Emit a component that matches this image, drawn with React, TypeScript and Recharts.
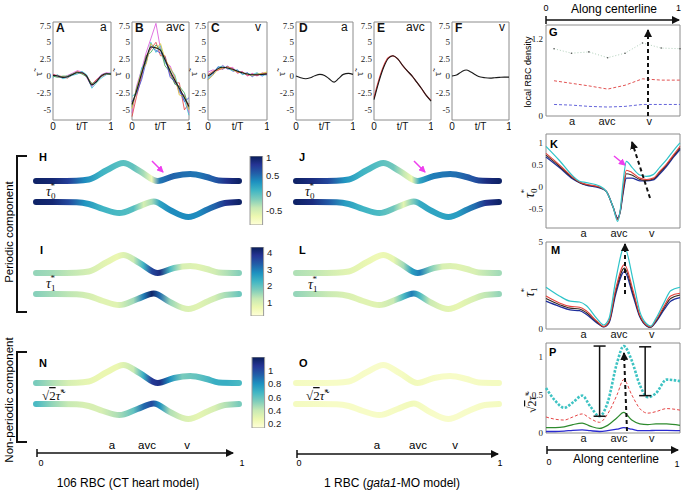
import React from 'react';
import { LineChart, Line, BarChart, Bar, XAxis, YAxis, ReferenceLine, ReferenceArea } from 'recharts';

const SANS = '"Liberation Sans", Arial, Helvetica, sans-serif';
const SERIF = '"Liberation Serif", "Times New Roman", serif';

// ---- panels A-F : tau over one period ----
const tGrid = [0, 0.08, 0.17, 0.25, 0.33, 0.42, 0.5, 0.58, 0.67, 0.75, 0.83, 0.92, 1];
const aMean = [0.1, 0.0, -0.2, -0.1, 0.2, 0.5, 0.5, 0.0, -1.3, -0.8, 0.0, 0.35, 0.3];
const aTraces = [
  [0.3, -0.1, -0.3, 0.1, 0.4, 0.8, 0.6, -0.2, -1.6, -0.6, 0.2, 0.5, 0.4],
  [0.2, 0.1, -0.1, -0.3, 0.2, 0.7, 0.4, 0.1, -1.2, -0.5, -0.1, 0.3, 0.3],
  [-0.2, 0.2, -0.4, -0.2, 0.1, 0.3, 0.7, 0.2, -1.8, -1.0, -0.3, 0.2, 0.5],
  [0.0, -0.2, 0.0, 0.0, 0.3, 0.6, 0.3, -0.1, -1.1, -0.9, 0.1, 0.4, 0.2],
];
const bMean = [-4.2, -2.2, 0.4, 2.6, 4.3, 4.2, 3.8, 2.4, 0.7, -0.6, -1.8, -3.2, -4.5];
const bTraces = [
  [-5.5, -1.5, 1.0, 3.5, 5.5, 7.8, 4.0, 2.0, 1.5, -0.3, -2.5, -2.8, -5.5],
  [-6.0, -3.0, 0.0, 3.0, 4.0, 5.0, 3.0, 3.0, 0.2, -1.0, -1.0, -5.0, -4.0],
  [-3.0, -2.5, 1.2, 2.0, 5.0, 3.5, 4.5, 2.0, 1.0, 0.2, -2.2, -3.5, -5.8],
  [-4.5, -1.8, 0.5, 3.0, 3.5, 4.6, 4.0, 1.5, 0.6, -1.2, -1.5, -2.5, -4.8],
  [-3.8, -2.6, -0.5, 2.2, 4.5, 3.8, 3.4, 2.8, -0.2, -0.8, -2.0, -3.8, -3.2],
  [-4.8, -2.0, 0.8, 1.8, 4.8, 4.0, 4.8, 2.5, 1.2, 0.0, -2.8, -3.0, -5.0],
];
const cMean = [0, 0.5, 1.1, 1.3, 1.2, 1.0, 0.7, 0.5, 0.3, 0.2, 0.2, 0.25, 0.3];
const cTraces = [
  [-0.5, 0.2, 1.4, 1.0, 1.5, 0.7, 0.9, 0.3, 0.5, -0.1, 0.4, 0.0, 0.5],
  [0.6, 0.9, 0.8, 1.6, 1.0, 1.3, 0.4, 0.7, 0.0, 0.4, 0.0, 0.5, 0.1],
  [-0.3, 0.4, 1.3, 1.5, 1.1, 0.8, 0.9, 0.2, 0.4, 0.2, 0.5, 0.1, 0.2],
  [0.2, 0.7, 0.9, 1.1, 1.4, 1.1, 0.5, 0.6, 0.1, 0.3, 0.1, 0.4, 0.4],
  [-0.6, 0.1, 1.0, 1.2, 1.3, 0.9, 0.6, 0.5, 0.3, 0.1, 0.3, 0.4, 0.6],
];
const dMean = [0, -0.25, -0.4, -0.25, 0.05, 0.25, 0.1, -0.4, -0.9, -0.35, 0.25, 0.4, 0.25];
const eMean = [-3.5, -1.0, 1.3, 2.6, 3.0, 2.5, 1.6, 0.8, 0.0, -0.9, -1.8, -2.9, -3.7];
const eRed = [-3.2, -0.7, 1.5, 2.7, 3.0, 2.5, 1.6, 0.8, 0.0, -0.9, -1.8, -2.9, -3.6];
const fMean = [0, 0.15, 0.65, 0.9, 0.6, 0.15, -0.15, -0.25, -0.3, -0.25, -0.2, -0.15, -0.15];
const tauTicks = [-5, -2.5, 0, 2.5, 5, 7.5];

// ---- panel G : local RBC density ----
const gX = [0.06, 0.19, 0.32, 0.46, 0.59, 0.72, 0.86, 1.0];
const gHigh = [1.05, 0.98, 1.0, 0.91, 0.98, 1.14, 1.06, 1.05];
const gMid = [0.55, 0.51, 0.47, 0.42, 0.48, 0.58, 0.56, 0.56];
const gLow = [0.18, 0.17, 0.15, 0.14, 0.15, 0.18, 0.18, 0.18];

// ---- panel K : tau0* along centreline ----
const kX = [0, 0.1, 0.2, 0.25, 0.3, 0.4, 0.45, 0.5, 0.535, 0.555, 0.575, 0.6, 0.64, 0.7, 0.75, 0.8, 0.85, 0.9, 0.95, 1];
const kCyan = [0.92, 0.6, 0.25, 0.13, 0.1, 0.02, -0.1, -0.45, -0.78, -0.5, 0.1, 0.58, 0.45, 0.27, 0.24, 0.28, 0.45, 0.62, 0.82, 1.0];
const kRed = [0.76, 0.5, 0.22, 0.11, 0.06, 0.0, -0.1, -0.45, -0.74, -0.52, -0.05, 0.38, 0.33, 0.2, 0.17, 0.2, 0.36, 0.52, 0.72, 0.92];
const kBlack = [0.72, 0.47, 0.2, 0.1, 0.05, -0.01, -0.1, -0.45, -0.72, -0.54, -0.1, 0.3, 0.27, 0.17, 0.15, 0.18, 0.33, 0.5, 0.7, 0.88];
const kBlue = [0.68, 0.44, 0.18, 0.1, 0.04, -0.02, -0.1, -0.45, -0.7, -0.55, -0.15, 0.2, 0.2, 0.14, 0.14, 0.16, 0.3, 0.47, 0.67, 0.85];

// ---- panel M : tau1* ----
const mX = [0, 0.1, 0.18, 0.25, 0.3, 0.38, 0.43, 0.47, 0.52, 0.585, 0.65, 0.7, 0.75, 0.78, 0.82, 0.88, 0.93, 1];
const mCyan = [2.4, 1.9, 1.6, 1.55, 1.35, 0.6, 0.23, 0.6, 2.8, 4.7, 2.8, 1.0, 0.3, 0.17, 0.6, 1.5, 2.2, 2.4];
const mRed = [1.9, 1.5, 1.3, 1.25, 1.05, 0.45, 0.15, 0.45, 2.3, 3.7, 2.2, 0.8, 0.22, 0.12, 0.5, 1.3, 1.9, 2.05];
const mBlack = [1.75, 1.4, 1.2, 1.15, 0.95, 0.4, 0.13, 0.4, 2.15, 3.5, 2.05, 0.75, 0.2, 0.1, 0.45, 1.2, 1.75, 1.95];
const mBlue = [1.6, 1.3, 1.1, 1.05, 0.85, 0.35, 0.12, 0.35, 2.0, 3.3, 1.9, 0.7, 0.18, 0.1, 0.4, 1.1, 1.6, 1.8];

// ---- panel P : sqrt(2) tau~* ----
const pX = [0, 0.07, 0.135, 0.2, 0.27, 0.33, 0.4, 0.46, 0.53, 0.58, 0.64, 0.7, 0.76, 0.82, 0.9, 1];
const pCyan = [0.59, 0.42, 0.33, 0.4, 0.49, 0.35, 0.22, 0.4, 0.92, 1.14, 0.95, 0.63, 0.47, 0.52, 0.7, 0.68];
const pRed = [0.21, 0.18, 0.17, 0.21, 0.25, 0.19, 0.14, 0.25, 0.5, 0.7, 0.5, 0.32, 0.26, 0.28, 0.32, 0.3];
const pGreen = [0.07, 0.07, 0.08, 0.11, 0.13, 0.09, 0.06, 0.1, 0.2, 0.27, 0.17, 0.12, 0.11, 0.12, 0.12, 0.1];
const pBlue = [0.02, 0.02, 0.025, 0.035, 0.04, 0.03, 0.02, 0.03, 0.05, 0.07, 0.05, 0.03, 0.03, 0.035, 0.035, 0.03];
const errX = [0.4, 0.74];
const errLo = [0.22, 0.49];
const errHi = [1.14, 1.13];

// ---- tubes H-O : centreline shape and colour values ----
const shapeTopX = [0, 0.1, 0.2, 0.26, 0.35, 0.43, 0.51, 0.6, 0.68, 0.76, 0.84, 0.9, 1];
const shapeTop = [0, 0, 0.3, 1.5, 11, 18, 10, 0, 5, 7, 4, 0.5, 0];
const shapeBotX = [0, 0.1, 0.2, 0.26, 0.33, 0.41, 0.5, 0.58, 0.66, 0.75, 0.85, 0.93, 1];
const shapeBot = [0, 0, -0.3, -2, -7, -11, -5, 0.5, -8, -15, -7, -1, 0];
const colX = [0, 0.08, 0.16, 0.24, 0.32, 0.4, 0.48, 0.53, 0.57, 0.61, 0.66, 0.72, 0.8, 0.88, 0.94, 1];
const hTopC = [1.0, 0.95, 0.75, 0.35, 0.1, 0.0, -0.05, -0.3, -0.7, 0.45, 0.55, 0.5, 0.45, 0.6, 0.85, 1.0];
const hBotC = [1.0, 0.95, 0.7, 0.3, 0.1, 0.05, 0.0, -0.5, -0.3, 0.2, 0.35, 0.35, 0.35, 0.55, 0.85, 1.0];
const iTopC = [1.6, 1.5, 1.3, 1.1, 0.9, 0.75, 1.2, 2.3, 3.6, 4.0, 2.2, 1.0, 0.9, 1.1, 1.4, 1.7];
const iBotC = [1.7, 1.5, 1.3, 1.1, 0.9, 0.9, 1.5, 3.0, 4.2, 3.2, 1.6, 1.0, 0.9, 1.1, 1.5, 1.9];
const nTopC = [0.55, 0.45, 0.35, 0.3, 0.28, 0.28, 0.4, 0.7, 1.05, 1.1, 0.8, 0.55, 0.6, 0.7, 0.7, 0.65];
const nBotC = [0.65, 0.5, 0.4, 0.35, 0.35, 0.45, 0.6, 0.9, 1.0, 0.8, 0.45, 0.35, 0.3, 0.35, 0.45, 0.55];
const jTopC = [1.0, 0.9, 0.7, 0.3, 0.1, 0.0, -0.1, -0.4, -0.65, 0.2, 0.4, 0.45, 0.5, 0.65, 0.9, 1.0];
const jBotC = [1.0, 0.9, 0.6, 0.25, 0.1, 0.05, -0.1, -0.6, -0.2, 0.15, 0.2, 0.2, 0.25, 0.5, 0.85, 1.0];
const lTopC = [1.4, 1.3, 1.1, 0.9, 0.8, 0.65, 0.8, 1.5, 2.6, 3.0, 1.8, 1.0, 0.9, 1.0, 1.3, 1.5];
const lBotC = [1.6, 1.4, 1.2, 1.0, 0.9, 0.9, 1.2, 2.2, 3.0, 2.2, 1.2, 0.9, 0.8, 1.0, 1.3, 1.6];
const oTopC = [0.22, 0.21, 0.2, 0.2, 0.2, 0.19, 0.2, 0.22, 0.24, 0.23, 0.21, 0.2, 0.2, 0.21, 0.22, 0.22];
const oBotC = [0.22, 0.21, 0.2, 0.2, 0.2, 0.2, 0.21, 0.23, 0.24, 0.22, 0.2, 0.19, 0.19, 0.2, 0.21, 0.22];

const tau0Dom = [-0.9, 1.06];
const tau0Ticks = [-0.5, 0, 0.5, 1];
const tau1Dom = [0.2, 4.35];
const tau1Ticks = [1, 2, 3, 4];
const tauNDom = [0.14, 1.2];
const tauNTicks = [0.2, 0.4, 0.6, 0.8, 1];

const regionTicks = [0.28, 0.545, 0.79];
const regionNames = ['a', 'avc', 'v'];
const gRegionTicks = [0.194, 0.455, 0.77];

const traceColors = ['#d94fd9', '#e03c3c', '#35c2d0', '#3aa64a', '#3a46d6', '#d6c22e'];
const YLGNBU = ['#ffffd9', '#edf8b1', '#c7e9b4', '#7fcdbb', '#41b6c4', '#1d91c0', '#225ea8', '#253494', '#081d58'];

const hex = (h: string) => [1, 3, 5].map((i) => parseInt(h.slice(i, i + 2), 16));
function cmap(f: number) {
  const g = Math.max(0, Math.min(1, f)) * 8;
  const i = Math.min(7, Math.floor(g));
  const u = g - i;
  const a = hex(YLGNBU[i]);
  const b = hex(YLGNBU[i + 1]);
  return `rgb(${a.map((v, k) => Math.round(v + (b[k] - v) * u)).join(',')})`;
}

const rows = (xs: number[], series: Record<string, number[]>) =>
  xs.map((x, i) => {
    const r: any = { x };
    Object.keys(series).forEach((k) => (r[k] = series[k][i]));
    return r;
  });

type Box = { x: number; y: number; w: number; h: number };

const MT = 6;
const MR = 2;

function Plot({ b, ml, mb, yDom, data, children }: { b: Box; ml: number; mb: number; yDom: number[]; data: any[]; children: any }) {
  const W = b.w + ml + MR;
  const H = b.h + MT + mb;
  return (
    <div style={{ position: 'absolute', left: b.x - ml, top: b.y - MT }}>
      <LineChart width={W} height={H} data={data} margin={{ top: MT, right: MR, left: 0, bottom: 0 }}>
        {children}
        <ReferenceArea x1={0} x2={1} y1={yDom[0]} y2={yDom[1]} fill="none" fillOpacity={0} stroke="#8c8c8c" strokeWidth={1} ifOverflow="visible" />
      </LineChart>
    </div>
  );
}

const serifTick = { fontSize: 9, fontFamily: SERIF, fill: '#222' };
const sansTick = { fontSize: 11, fontFamily: SANS, fill: '#111' };
const tauDom = [-6.5, 8];

function TracePanel({ b, mean, traces, colors, red }: { b: Box; mean: number[]; traces: number[][]; colors: string[]; red?: number[] }) {
  const series: Record<string, number[]> = { mean };
  traces.forEach((tr, k) => (series['s' + k] = tr));
  if (red) series.red = red;
  const data = rows(tGrid, series);
  return (
    <Plot b={b} ml={22} mb={16} yDom={tauDom} data={data}>
      <XAxis type="number" dataKey="x" domain={[0, 1]} ticks={[0, 0.5, 1]} interval={0}
        tickFormatter={(v: number) => (v === 0.5 ? 't/T' : String(v))}
        tickLine={false} axisLine={false} tickSize={0} tickMargin={3} height={16}
        tick={{ fontSize: 10, fontFamily: SANS, fill: '#111' }} />
      <YAxis type="number" domain={tauDom} ticks={tauTicks} interval={0} width={22}
        tickLine={false} axisLine={false} tickSize={0} tickMargin={2} tick={serifTick} />
      {traces.map((_, k) => (
        <Line key={k} type="linear" dataKey={'s' + k} stroke={colors[k % colors.length]} strokeWidth={0.8} dot={false} isAnimationActive={false} />
      ))}
      {red && <Line type="monotone" dataKey="red" stroke="#e03c3c" strokeWidth={1.2} dot={false} isAnimationActive={false} />}
      <Line type="monotone" dataKey="mean" stroke="#1a1a1a" strokeWidth={1.1} dot={false} isAnimationActive={false} />
    </Plot>
  );
}

function Tube({ id, x0, base, xs, ys, cvals, dom }: { id: string; x0: number; base: number; xs: number[]; ys: number[]; cvals: number[]; dom: number[] }) {
  const len = 203;
  const pad = 5;
  const H = 50;
  const data = xs.map((x, i) => ({ x, y: ys[i] }));
  return (
    <div style={{ position: 'absolute', left: x0 - pad, top: base - H / 2 }}>
      <LineChart width={len + 2 * pad} height={H} data={data} margin={{ top: 0, right: pad, left: pad, bottom: 0 }}>
        <defs>
          <linearGradient id={id} x1="0" y1="0" x2="1" y2="0">
            {colX.map((p, i) => (
              <stop key={i} offset={p} stopColor={cmap((cvals[i] - dom[0]) / (dom[1] - dom[0]))} />
            ))}
          </linearGradient>
        </defs>
        <XAxis type="number" dataKey="x" domain={[0, 1]} hide />
        <YAxis type="number" domain={[-H / 2, H / 2]} hide />
        <Line type="monotone" dataKey="y" stroke={`url(#${id})`} strokeWidth={6} strokeLinecap="round" dot={false} isAnimationActive={false} />
      </LineChart>
    </div>
  );
}

function ColorBar({ id, x, y, h, dom, ticks }: { id: string; x: number; y: number; h: number; dom: number[]; ticks: number[] }) {
  const w = 14;
  const mr = 26;
  const data = [{ k: 'c', r: dom }];
  return (
    <div style={{ position: 'absolute', left: x, top: y - 6 }}>
      <BarChart width={w + mr} height={h + 12} data={data} margin={{ top: 6, right: 0, left: 0, bottom: 6 }} barCategoryGap={0}>
        <defs>
          <linearGradient id={id} x1="0" y1="1" x2="0" y2="0">
            {YLGNBU.map((c, i) => (
              <stop key={i} offset={i / 8} stopColor={c} />
            ))}
          </linearGradient>
        </defs>
        <XAxis type="category" dataKey="k" hide />
        <YAxis type="number" orientation="right" domain={dom} ticks={ticks} interval={0} width={mr}
          axisLine={false} tickLine={false} tickSize={2} tickMargin={1} allowDataOverflow
          tick={{ fontSize: 9.5, fontFamily: SANS, fill: '#222' }} />
        <Bar dataKey="r" fill={`url(#${id})`} stroke="#9a9a9a" strokeWidth={1} barSize={w} isAnimationActive={false} />
      </BarChart>
    </div>
  );
}

const regionAxis = (ticks: number[]) => (
  <XAxis type="number" dataKey="x" domain={[0, 1]} ticks={ticks} interval={0}
    tickFormatter={(v: number) => regionNames[ticks.indexOf(v)] || ''}
    tickLine={false} axisLine={false} tickSize={0} tickMargin={1} height={14} tick={sansTick} />
);

const TubeLabel = ({ x, y, sub }: { x: number; y: number; sub: string }) => (
  <text x={x} y={y} fontFamily={SERIF} fontSize={14} fontStyle="italic" fill="#111">
    τ<tspan fontSize={9} fontStyle="normal" dy={3}>{sub}</tspan>
    <tspan fontSize={9} fontStyle="normal" dx={-5} dy={-10}>*</tspan>
  </text>
);

const SqrtLabel = ({ x, y, size = 13 }: { x: number; y: number; size?: number }) => (
  <text x={x} y={y} fontFamily={SERIF} fontSize={size} fill="#111">
    √<tspan textDecoration="overline">2</tspan>
    <tspan fontStyle="italic">τ̃</tspan>
    <tspan fontSize={size * 0.65} dy={-5}>*</tspan>
  </text>
);

export default function App() {
  const smallY = 22;
  const smallH = 98;
  const boxA = { x: 53, y: smallY, w: 58, h: smallH };
  const boxB = { x: 132, y: smallY, w: 57, h: smallH };
  const boxC = { x: 208, y: smallY, w: 59, h: smallH };
  const boxD = { x: 296, y: smallY, w: 57, h: smallH };
  const boxE = { x: 374, y: smallY, w: 57, h: smallH };
  const boxF = { x: 452, y: smallY, w: 57, h: smallH };
  const boxG = { x: 546, y: 25, w: 134, h: 91 };
  const boxK = { x: 546, y: 134, w: 134, h: 94 };
  const boxM = { x: 546, y: 242, w: 134, h: 88 };
  const boxP = { x: 546, y: 343, w: 134, h: 90 };

  const gData = rows(gX, { hi: gHigh, mid: gMid, lo: gLow });
  const kData = rows(kX, { blue: kBlue, black: kBlack, red: kRed, cyan: kCyan });
  const mData = rows(mX, { blue: mBlue, black: mBlack, red: mRed, cyan: mCyan });
  const pData = rows(pX, { blue: pBlue, green: pGreen, red: pRed, cyan: pCyan });
  const gDom = [0, 1.42];
  const kDom = [-0.93, 1.2];
  const mDom = [0, 5];
  const pDom = [0, 1.18];

  const L0 = 36;
  const R0 = 296;
  const smallBoxes = [boxA, boxB, boxC, boxD, boxE, boxF];
  const smallLetters = ['A', 'B', 'C', 'D', 'E', 'F'];
  const smallRegions = [
    { t: 'a', x: 100 }, { t: 'avc', x: 166 }, { t: 'v', x: 255 },
    { t: 'a', x: 341 }, { t: 'avc', x: 406 }, { t: 'v', x: 499 },
  ];

  return (
    <div style={{ position: 'absolute', left: 0, top: 0, width: 683, height: 494, background: '#fff', overflow: 'hidden', fontFamily: SANS }}>
      <TracePanel b={boxA} mean={aMean} traces={aTraces} colors={[traceColors[0], traceColors[1], traceColors[2], traceColors[3]]} />
      <TracePanel b={boxB} mean={bMean} traces={bTraces} colors={traceColors} />
      <TracePanel b={boxC} mean={cMean} traces={cTraces} colors={[traceColors[4], traceColors[0], traceColors[2], traceColors[1], traceColors[5]]} />
      <TracePanel b={boxD} mean={dMean} traces={[]} colors={traceColors} />
      <TracePanel b={boxE} mean={eMean} traces={[]} colors={traceColors} red={eRed} />
      <TracePanel b={boxF} mean={fMean} traces={[]} colors={traceColors} />

      <Plot b={boxG} ml={20} mb={14} yDom={gDom} data={gData}>
        {regionAxis(gRegionTicks)}
        <YAxis type="number" domain={gDom} ticks={[0, 1.2]} interval={0} width={20}
          tickLine={false} axisLine={false} tickSize={0} tickMargin={3} tick={serifTick} />
        <Line type="linear" dataKey="hi" stroke="#9cc3a8" strokeWidth={0.8} strokeDasharray="1 2" dot={{ r: 0.8, fill: '#555', stroke: 'none' }} isAnimationActive={false} />
        <Line type="linear" dataKey="mid" stroke="#e25353" strokeWidth={1} strokeDasharray="3 2" dot={false} isAnimationActive={false} />
        <Line type="linear" dataKey="lo" stroke="#6464da" strokeWidth={1} strokeDasharray="3 2" dot={false} isAnimationActive={false} />
      </Plot>

      <Plot b={boxK} ml={20} mb={14} yDom={kDom} data={kData}>
        {regionAxis(regionTicks)}
        <YAxis type="number" domain={kDom} ticks={[-0.5, 0, 0.5, 1]} interval={0} width={20}
          tickLine={false} axisLine={false} tickSize={0} tickMargin={3} tick={serifTick} />
        <Line type="monotone" dataKey="blue" stroke="#1f2f9c" strokeWidth={1.3} dot={false} isAnimationActive={false} />
        <Line type="monotone" dataKey="black" stroke="#3a2a22" strokeWidth={1.1} dot={false} isAnimationActive={false} />
        <Line type="monotone" dataKey="red" stroke="#e3413a" strokeWidth={1.1} dot={false} isAnimationActive={false} />
        <Line type="monotone" dataKey="cyan" stroke="#2ec4c9" strokeWidth={1.2} dot={false} isAnimationActive={false} />
      </Plot>

      <Plot b={boxM} ml={20} mb={13} yDom={mDom} data={mData}>
        {regionAxis(regionTicks)}
        <YAxis type="number" domain={mDom} ticks={[0, 5]} interval={0} width={20}
          tickLine={false} axisLine={false} tickSize={0} tickMargin={3} tick={serifTick} />
        <Line type="monotone" dataKey="blue" stroke="#1f2f9c" strokeWidth={1.3} dot={false} isAnimationActive={false} />
        <Line type="monotone" dataKey="black" stroke="#3a2a22" strokeWidth={1.1} dot={false} isAnimationActive={false} />
        <Line type="monotone" dataKey="red" stroke="#e3413a" strokeWidth={1.1} dot={false} isAnimationActive={false} />
        <Line type="monotone" dataKey="cyan" stroke="#2ec4c9" strokeWidth={1.2} dot={false} isAnimationActive={false} />
      </Plot>

      <Plot b={boxP} ml={20} mb={14} yDom={pDom} data={pData}>
        {regionAxis(regionTicks)}
        <YAxis type="number" domain={pDom} ticks={[0, 0.5, 1]} interval={0} width={20}
          tickLine={false} axisLine={false} tickSize={0} tickMargin={3} tick={serifTick} />
        <Line type="monotone" dataKey="blue" stroke="#2a2ad0" strokeWidth={1.3} dot={false} isAnimationActive={false} />
        <Line type="monotone" dataKey="green" stroke="#2e8b2e" strokeWidth={1.2} dot={false} isAnimationActive={false} />
        <Line type="monotone" dataKey="red" stroke="#e64646" strokeWidth={1} strokeDasharray="3 2" dot={false} isAnimationActive={false} />
        <Line type="monotone" dataKey="cyan" stroke="#3ec3c3" strokeWidth={2.6} strokeDasharray="2.5 1.5" dot={false} isAnimationActive={false} />
        {errX.map((x, i) => (
          <ReferenceLine key={'e' + i} segment={[{ x, y: errLo[i] }, { x, y: errHi[i] }]} stroke="#111" strokeWidth={1.5} />
        ))}
        {errX.map((x, i) => (
          <ReferenceLine key={'t' + i} segment={[{ x: x - 0.045, y: errHi[i] }, { x: x + 0.045, y: errHi[i] }]} stroke="#111" strokeWidth={1.5} />
        ))}
        {errX.map((x, i) => (
          <ReferenceLine key={'b' + i} segment={[{ x: x - 0.045, y: errLo[i] }, { x: x + 0.045, y: errLo[i] }]} stroke="#111" strokeWidth={1.5} />
        ))}
      </Plot>

      {/* tubes */}
      <Tube id="hT" x0={L0} base={181} xs={shapeTopX} ys={shapeTop} cvals={hTopC} dom={tau0Dom} />
      <Tube id="hB" x0={L0} base={202} xs={shapeBotX} ys={shapeBot} cvals={hBotC} dom={tau0Dom} />
      <Tube id="iT" x0={L0} base={273} xs={shapeTopX} ys={shapeTop} cvals={iTopC} dom={tau1Dom} />
      <Tube id="iB" x0={L0} base={294} xs={shapeBotX} ys={shapeBot} cvals={iBotC} dom={tau1Dom} />
      <Tube id="nT" x0={L0} base={383} xs={shapeTopX} ys={shapeTop} cvals={nTopC} dom={tauNDom} />
      <Tube id="nB" x0={L0} base={404} xs={shapeBotX} ys={shapeBot} cvals={nBotC} dom={tauNDom} />
      <Tube id="jT" x0={R0} base={181} xs={shapeTopX} ys={shapeTop} cvals={jTopC} dom={tau0Dom} />
      <Tube id="jB" x0={R0} base={202} xs={shapeBotX} ys={shapeBot} cvals={jBotC} dom={tau0Dom} />
      <Tube id="lT" x0={R0} base={273} xs={shapeTopX} ys={shapeTop} cvals={lTopC} dom={tau1Dom} />
      <Tube id="lB" x0={R0} base={294} xs={shapeBotX} ys={shapeBot} cvals={lBotC} dom={tau1Dom} />
      <Tube id="oT" x0={R0} base={383} xs={shapeTopX} ys={shapeTop} cvals={oTopC} dom={tauNDom} />
      <Tube id="oB" x0={R0} base={404} xs={shapeBotX} ys={shapeBot} cvals={oBotC} dom={tauNDom} />

      <ColorBar id="cbH" x={249} y={156} h={69} dom={tau0Dom} ticks={tau0Ticks} />
      <ColorBar id="cbI" x={250} y={247} h={69} dom={tau1Dom} ticks={tau1Ticks} />
      <ColorBar id="cbN" x={251} y={357} h={71} dom={tauNDom} ticks={tauNTicks} />

      {/* annotations */}
      <svg width={683} height={494} style={{ position: 'absolute', left: 0, top: 0, pointerEvents: 'none' }}>
        <defs>
          <marker id="ahK" markerWidth={8} markerHeight={8} refX={7} refY={4} orient="auto" markerUnits="userSpaceOnUse">
            <path d="M0,0 L8,4 L0,8 z" fill="#111" />
          </marker>
          <marker id="ahP" markerWidth={7} markerHeight={7} refX={6} refY={3.5} orient="auto" markerUnits="userSpaceOnUse">
            <path d="M0,0 L7,3.5 L0,7 z" fill="#ee3fee" />
          </marker>
        </defs>

        {smallBoxes.map((b, i) => (
          <text key={'L' + i} x={b.x + 3} y={32} fontSize={12} fontWeight="bold" fontFamily={SANS} fill="#111">{smallLetters[i]}</text>
        ))}
        {smallRegions.map((r, i) => (
          <text key={'R' + i} x={r.x} y={31} fontSize={12} fontFamily={SANS} fill="#111">{r.t}</text>
        ))}
        {smallBoxes.map((b, i) => (
          <text key={'Y' + i} x={b.x - 11} y={74} fontSize={11} fontFamily={SERIF} fill="#111" textAnchor="middle" transform={`rotate(-90 ${b.x - 11} 74)`}>τ̃</text>
        ))}

        <text x={549} y={36} fontSize={11} fontWeight="bold" fontFamily={SANS}>G</text>
        <text x={550} y={148} fontSize={11} fontWeight="bold" fontFamily={SANS}>K</text>
        <text x={551} y={254} fontSize={11} fontWeight="bold" fontFamily={SANS}>M</text>
        <text x={549} y={356} fontSize={11} fontWeight="bold" fontFamily={SANS}>P</text>

        <text x={531} y={72} fontSize={9} fontFamily={SANS} textAnchor="middle" transform="rotate(-90 531 72)">local RBC density</text>
        <g transform="rotate(-90 534 191)"><TubeLabel x={527} y={191} sub="0" /></g>
        <g transform="rotate(-90 534 290)"><TubeLabel x={527} y={290} sub="1" /></g>
        <g transform="rotate(-90 536 397)"><SqrtLabel x={520} y={397} size={12} /></g>

        {/* along centerline arrows */}
        <text x={614} y={13} fontSize={12} fontFamily={SANS} textAnchor="middle">Along centerline</text>
        <text x={546} y={11} fontSize={9} fontFamily={SANS} textAnchor="middle">0</text>
        <text x={676} y={11} fontSize={9} fontFamily={SANS}>1</text>
        <line x1={546} y1={20} x2={679} y2={20} stroke="#111" strokeWidth={1.6} markerEnd="url(#ahK)" />
        <line x1={546} y1={16} x2={546} y2={24} stroke="#111" strokeWidth={1.5} />

        <line x1={547} y1={450} x2={678} y2={450} stroke="#111" strokeWidth={1.6} markerEnd="url(#ahK)" />
        <line x1={547} y1={446} x2={547} y2={454} stroke="#111" strokeWidth={1.5} />
        <text x={549} y={465} fontSize={9} fontFamily={SANS} textAnchor="middle">0</text>
        <text x={616} y={463} fontSize={12} fontFamily={SANS} textAnchor="middle">Along centerline</text>
        <text x={677} y={467} fontSize={9} fontFamily={SANS} textAnchor="middle">1</text>

        {/* dashed trend arrows */}
        <line x1={648} y1={116} x2={648} y2={30} stroke="#111" strokeWidth={2} strokeDasharray="4 3" markerEnd="url(#ahK)" />
        <line x1={650} y1={198} x2={632} y2={142} stroke="#111" strokeWidth={2} strokeDasharray="4 3" markerEnd="url(#ahK)" />
        <line x1={625} y1={294} x2={625} y2={244} stroke="#111" strokeWidth={2} strokeDasharray="4 3" markerEnd="url(#ahK)" />
        <line x1={627} y1={431} x2={624} y2={353} stroke="#111" strokeWidth={2} strokeDasharray="4 3" markerEnd="url(#ahK)" />

        {/* pink arrows */}
        <line x1={152} y1={161} x2={163} y2={172} stroke="#ee3fee" strokeWidth={1.5} markerEnd="url(#ahP)" />
        <line x1={414} y1={161} x2={425} y2={172} stroke="#ee3fee" strokeWidth={1.5} markerEnd="url(#ahP)" />
        <line x1={614} y1={156} x2={625} y2={165} stroke="#ee3fee" strokeWidth={1.5} markerEnd="url(#ahP)" />

        {/* tube panel letters and labels */}
        <text x={39} y={161} fontSize={11} fontWeight="bold" fontFamily={SANS}>H</text>
        <text x={40} y={254} fontSize={11} fontWeight="bold" fontFamily={SANS}>I</text>
        <text x={39} y={367} fontSize={11} fontWeight="bold" fontFamily={SANS}>N</text>
        <text x={299} y={161} fontSize={11} fontWeight="bold" fontFamily={SANS}>J</text>
        <text x={299} y={254} fontSize={11} fontWeight="bold" fontFamily={SANS}>L</text>
        <text x={299} y={367} fontSize={11} fontWeight="bold" fontFamily={SANS}>O</text>
        <TubeLabel x={46} y={196} sub="0" />
        <TubeLabel x={305} y={196} sub="0" />
        <TubeLabel x={46} y={288} sub="1" />
        <TubeLabel x={308} y={289} sub="1" />
        <SqrtLabel x={42} y={400} />
        <SqrtLabel x={306} y={400} />

        {/* brackets */}
        <path d="M27,156 H17 V312 H27" fill="none" stroke="#111" strokeWidth={2} />
        <path d="M27,352 H17 V442 H27" fill="none" stroke="#111" strokeWidth={2} />
        <text x={13} y={232} fontSize={11.5} fontFamily={SANS} textAnchor="middle" transform="rotate(-90 13 232)">Periodic component</text>
        <text x={13} y={400} fontSize={11.5} fontFamily={SANS} textAnchor="middle" transform="rotate(-90 13 400)">Non-periodic component</text>

        {/* centreline axes under tubes */}
        <line x1={37} y1={453} x2={233} y2={453} stroke="#111" strokeWidth={1.5} markerEnd="url(#ahK)" />
        <line x1={37} y1={449} x2={37} y2={457} stroke="#111" strokeWidth={1.5} />
        <line x1={297} y1={454} x2={498} y2={454} stroke="#111" strokeWidth={1.5} markerEnd="url(#ahK)" />
        <line x1={297} y1={450} x2={297} y2={458} stroke="#111" strokeWidth={1.5} />
        {[112, 147, 187].map((x, i) => (
          <text key={'la' + i} x={x} y={449} fontSize={11.5} fontFamily={SANS} textAnchor="middle">{regionNames[i]}</text>
        ))}
        {[377, 418, 455].map((x, i) => (
          <text key={'ra' + i} x={x} y={449} fontSize={11.5} fontFamily={SANS} textAnchor="middle">{regionNames[i]}</text>
        ))}
        <text x={41} y={466} fontSize={9} fontFamily={SANS} textAnchor="middle">0</text>
        <text x={242} y={466} fontSize={9} fontFamily={SANS} textAnchor="middle">1</text>
        <text x={299} y={466} fontSize={9} fontFamily={SANS} textAnchor="middle">0</text>
        <text x={500} y={466} fontSize={9} fontFamily={SANS} textAnchor="middle">1</text>

        <text x={128} y={487} fontSize={12} fontFamily={SANS} textAnchor="middle">106 RBC (CT heart model)</text>
        <text x={392} y={487} fontSize={12} fontFamily={SANS} textAnchor="middle">
          1 RBC (<tspan fontStyle="italic">gata1</tspan>-MO model)
        </text>
      </svg>
    </div>
  );
}
